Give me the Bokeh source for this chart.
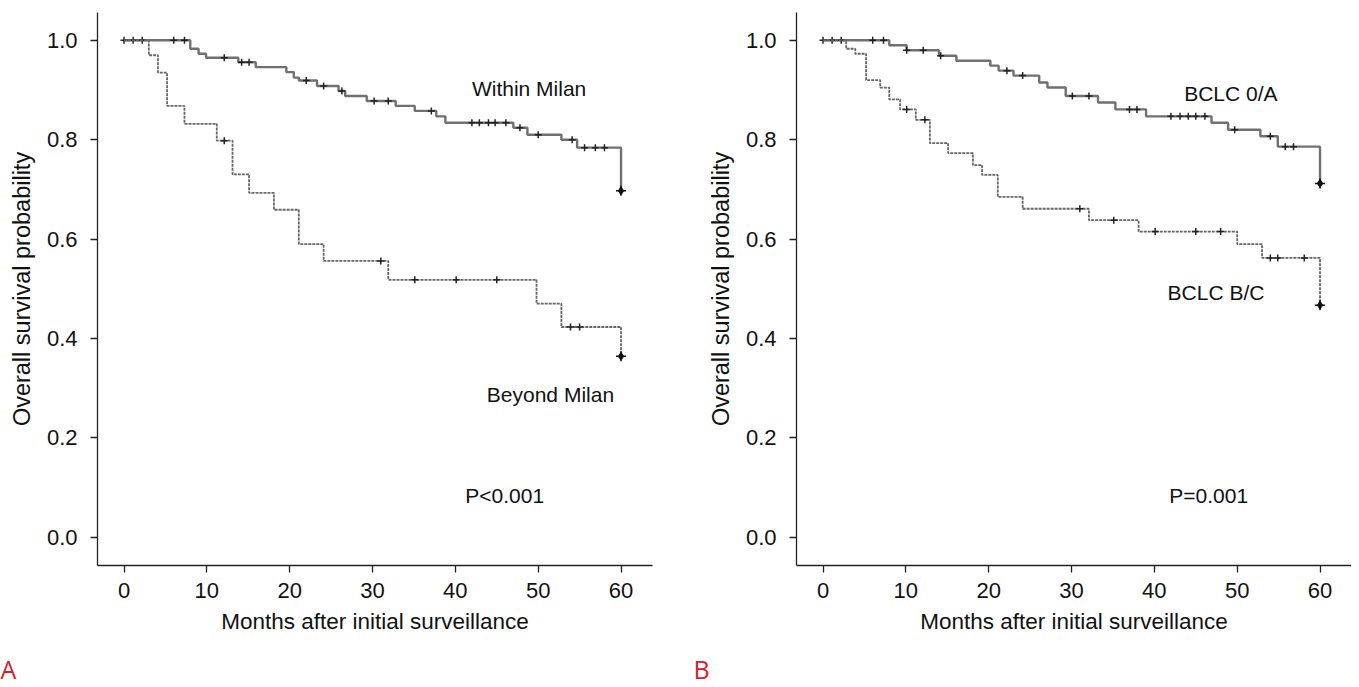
import numpy as np
from bokeh.plotting import figure
from bokeh.layouts import row
from bokeh.models import Label, FixedTicker, Title
from bokeh.embed import file_html
from bokeh.resources import INLINE

# ---------------- data ----------------
x_ticks = [0, 10, 20, 30, 40, 50, 60]
y_ticks = [0.0, 0.2, 0.4, 0.6, 0.8, 1.0]
y_tick_labels = ["0.0", "0.2", "0.4", "0.6", "0.8", "1.0"]

# Panel A
within_t = [0, 8.0, 9.0, 9.9, 13.8, 15.9, 19.6, 20.5, 21.1, 23.3, 25.9, 26.7, 29.3,
            32.8, 35.1, 37.7, 38.8, 47.0, 48.7, 52.8, 54.7, 60.0]
within_s = [1.0, 0.983, 0.973, 0.965, 0.956, 0.946, 0.936, 0.925, 0.919, 0.908, 0.898,
            0.888, 0.878, 0.868, 0.858, 0.847, 0.834, 0.824, 0.810, 0.800, 0.784, 0.697]
within_cens = [0, 1.1, 2.2, 6.0, 7.3, 12.1, 14.2, 15.1, 22.0, 24.1, 26.3, 30.2, 31.9,
               37.1, 42.0, 42.9, 44.0, 44.8, 46.1, 47.8, 50.0, 54.1, 55.6, 56.9, 58.0]

beyond_t = [0, 3.0, 4.1, 5.2, 7.3, 11.2, 13.1, 15.1, 18.1, 21.1, 24.1, 31.9, 49.8, 52.8, 60.0]
beyond_s = [1.0, 0.970, 0.935, 0.868, 0.832, 0.798, 0.730, 0.693, 0.659, 0.590, 0.556,
            0.518, 0.470, 0.423, 0.364]
beyond_cens = [12.1, 31.0, 35.1, 40.1, 45.0, 53.9, 55.0]

# Panel B
a_t = [0, 8.0, 10.1, 14.0, 16.1, 20.2, 21.2, 23.0, 26.1, 27.1, 29.3, 33.2, 35.3, 39.0,
       46.9, 48.9, 52.8, 54.9, 60.0]
a_s = [1.0, 0.990, 0.980, 0.969, 0.959, 0.949, 0.939, 0.929, 0.915, 0.905, 0.888, 0.875,
       0.861, 0.847, 0.834, 0.820, 0.807, 0.786, 0.712]
a_cens = [0, 1.1, 2.2, 6.0, 7.3, 10.1, 12.1, 14.2, 22.2, 24.1, 30.1, 32.1, 37.0, 37.9,
          42.0, 43.1, 44.1, 45.0, 46.1, 49.7, 54.0, 55.8, 56.8]

bc_t = [0, 2.8, 3.9, 5.2, 6.9, 8.0, 9.3, 11.2, 12.9, 15.1, 18.1, 19.2, 21.1, 24.1, 32.1,
        38.1, 50.0, 53.0, 60.0]
bc_s = [1.0, 0.983, 0.973, 0.920, 0.905, 0.881, 0.861, 0.840, 0.793, 0.773, 0.749, 0.729,
        0.685, 0.661, 0.638, 0.615, 0.590, 0.562, 0.467]
bc_cens = [10.1, 12.3, 31.0, 35.1, 40.1, 45.0, 48.0, 54.0, 54.9, 58.1]

panelA_labels = ["Within Milan", "Beyond Milan", "P<0.001"]
panelA_lx = [42.0, 43.8, 41.2]
panelA_ly = [0.903, 0.288, 0.083]
panelB_labels = ["BCLC 0/A", "BCLC B/C", "P=0.001"]
panelB_lx = [43.6, 41.6, 41.8]
panelB_ly = [0.893, 0.492, 0.083]
panel_tags = ["A", "B"]

x_label = "Months after initial surveillance"
y_label = "Overall survival probability"

FONT = "Liberation Sans"
FS_TICK = "22px"
FS_XAXIS = "22.5px"
FS_YAXIS = "23.5px"
FS_TEXT = "21px"
X_RANGE = (-3.2, 63.8)
Y_RANGE = (-0.057, 1.056)


def step_value(t, s, c):
    t = np.asarray(t)
    s = np.asarray(s)
    idx = np.searchsorted(t, np.asarray(c), side="right") - 1
    return s[idx]


def draw_curve(p, t, s, cens, dashed):
    if dashed:
        p.step(t, s, mode="after", line_color="#666666", line_width=1.8, line_dash="3 1")
    else:
        p.step(t, s, mode="after", line_color="#707070", line_width=2.4)
    cy = step_value(t, s, cens)
    p.scatter(cens, cy, marker="cross", size=7, line_color="#222222", line_width=1.5)
    p.scatter([t[-1]], [s[-1]], marker="diamond", size=8, fill_color="#111111",
              line_color="#111111")
    p.scatter([t[-1]], [s[-1]], marker="cross", size=10, line_color="#111111", line_width=1.5)


def make_panel(border_left, border_right, width, tag, tag_offset):
    p = figure(width=width, height=687, x_range=X_RANGE, y_range=Y_RANGE,
               output_backend="svg", toolbar_location=None,
               min_border_left=border_left, min_border_right=border_right,
               min_border_top=12, min_border_bottom=122)
    p.frame_width = 555
    p.frame_height = 553
    p.outline_line_color = None
    p.xgrid.visible = False
    p.ygrid.visible = False
    p.background_fill_color = "white"
    p.border_fill_color = "white"

    p.xaxis.ticker = FixedTicker(ticks=x_ticks)
    p.yaxis.ticker = FixedTicker(ticks=y_ticks)
    p.yaxis.major_label_overrides = {v: l for v, l in zip(y_ticks, y_tick_labels)}
    for ax in (p.xaxis, p.yaxis):
        ax.axis_line_color = "#222222"
        ax.axis_line_width = 1.3
        ax.major_tick_line_color = "#222222"
        ax.major_tick_line_width = 1.3
        ax.major_tick_out = 7
        ax.major_tick_in = 0
        ax.minor_tick_line_color = None
        ax.major_label_text_font = FONT
        ax.major_label_text_font_size = FS_TICK
        ax.major_label_text_color = "#111111"
        ax.axis_label_text_font = FONT
        ax.axis_label_text_font_style = "normal"
        ax.axis_label_text_color = "#111111"
    p.xaxis.axis_label_text_font_size = FS_XAXIS
    p.yaxis.axis_label_text_font_size = FS_YAXIS
    p.xaxis.axis_label = x_label
    p.yaxis.axis_label = y_label
    p.xaxis.major_label_standoff = 10
    p.yaxis.major_label_standoff = 13
    p.xaxis.axis_label_standoff = 8
    p.yaxis.axis_label_standoff = 9
    p.yaxis.major_label_orientation = "horizontal"

    p.add_layout(Title(text=tag, align="left", offset=tag_offset, standoff=26,
                       text_font="Open Sans", text_font_size="25px",
                       text_font_style="normal", text_color="#d8202a"), "below")
    return p


pA = make_panel(97, 40, 692, panel_tags[0], -97)
draw_curve(pA, within_t, within_s, within_cens, False)
draw_curve(pA, beyond_t, beyond_s, beyond_cens, True)
for txt, lx, ly in zip(panelA_labels, panelA_lx, panelA_ly):
    pA.add_layout(Label(x=lx, y=ly, text=txt, text_font=FONT, text_font_size=FS_TEXT,
                        text_baseline="middle", text_align="left", text_color="#111111"))

pB = make_panel(104, 0, 659, panel_tags[1], -103)
draw_curve(pB, a_t, a_s, a_cens, False)
draw_curve(pB, bc_t, bc_s, bc_cens, True)
for txt, lx, ly in zip(panelB_labels, panelB_lx, panelB_ly):
    pB.add_layout(Label(x=lx, y=ly, text=txt, text_font=FONT, text_font_size=FS_TEXT,
                        text_baseline="middle", text_align="left", text_color="#111111"))

layout = row(pA, pB, spacing=0)
open("out.html", "w").write(file_html(layout, INLINE))
